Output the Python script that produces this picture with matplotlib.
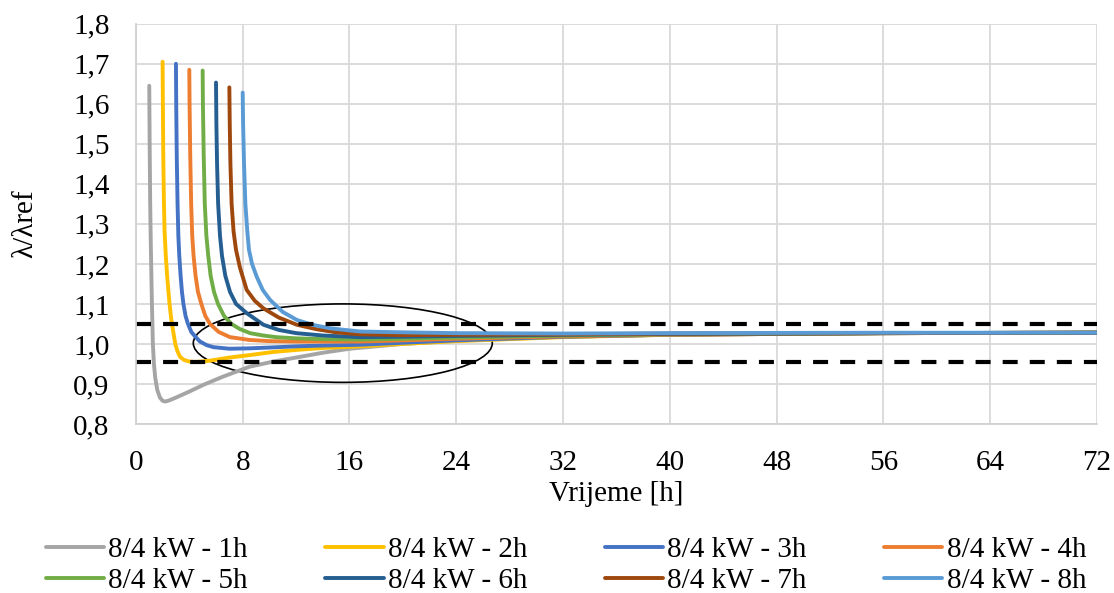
import matplotlib.pyplot as plt
from matplotlib.patches import Ellipse
from matplotlib.ticker import FuncFormatter, MultipleLocator

plt.rcParams['font.family'] = ['Liberation Serif', 'DejaVu Serif']

# series (time in h, lambda/lambda_ref)
t_1h = [1.0, 1.03, 1.07, 1.12, 1.2, 1.27, 1.35, 1.45, 1.6, 1.8, 2.0, 2.2, 2.5, 3.0, 4.0, 5.0, 6.5, 8.5, 10.3, 12.0, 14.0, 16.0, 20.0, 24.0, 32.0, 40.0, 56.0, 72.0]
v_1h = [1.645, 1.50, 1.35, 1.24, 1.10, 1.0, 0.95, 0.915, 0.885, 0.866, 0.858, 0.856, 0.859, 0.866, 0.881, 0.897, 0.918, 0.943, 0.956, 0.966, 0.978, 0.988, 1.0, 1.008, 1.018, 1.023, 1.027, 1.028]

t_2h = [2.0, 2.02, 2.05, 2.1, 2.15, 2.24, 2.34, 2.44, 2.52, 2.62, 2.7, 2.85, 2.95, 3.1, 3.3, 3.6, 4.0, 4.5, 5.5, 7.0, 8.5, 10.3, 12.0, 14.0, 16.8, 20.0, 24.0, 32.0, 40.0, 56.0, 72.0]
v_2h = [1.705, 1.60, 1.47, 1.35, 1.28, 1.22, 1.17, 1.13, 1.10, 1.07, 1.05, 1.02, 1.0, 0.983, 0.968, 0.96, 0.956, 0.955, 0.958, 0.966, 0.972, 0.98, 0.985, 0.99, 0.994, 1.0, 1.007, 1.017, 1.023, 1.027, 1.028]

t_3h = [3.0, 3.02, 3.06, 3.12, 3.18, 3.25, 3.35, 3.45, 3.56, 3.72, 3.9, 4.15, 4.43, 4.8, 5.3, 5.8, 7.0, 8.5, 10.0, 12.0, 14.0, 16.8, 20.0, 24.0, 32.0, 40.0, 56.0, 72.0]
v_3h = [1.70, 1.60, 1.47, 1.35, 1.27, 1.22, 1.17, 1.13, 1.10, 1.07, 1.05, 1.03, 1.019, 1.006, 0.997, 0.992, 0.988, 0.989, 0.991, 0.994, 0.996, 0.998, 1.003, 1.009, 1.018, 1.023, 1.027, 1.028]

t_4h = [4.0, 4.02, 4.07, 4.14, 4.22, 4.32, 4.47, 4.65, 4.9, 5.2, 5.55, 6.2, 7.05, 8.5, 10.0, 12.0, 16.8, 20.0, 24.0, 32.0, 40.0, 56.0, 72.0]
v_4h = [1.685, 1.60, 1.47, 1.35, 1.27, 1.22, 1.17, 1.13, 1.10, 1.07, 1.05, 1.03, 1.017, 1.01, 1.007, 1.006, 1.006, 1.009, 1.013, 1.019, 1.023, 1.027, 1.028]

t_5h = [5.0, 5.02, 5.08, 5.16, 5.28, 5.42, 5.6, 5.85, 6.15, 6.6, 7.15, 7.8, 8.55, 9.55, 10.5, 12.0, 14.0, 16.8, 20.0, 24.0, 32.0, 40.0, 56.0, 72.0]
v_5h = [1.683, 1.60, 1.47, 1.35, 1.27, 1.22, 1.17, 1.13, 1.10, 1.07, 1.05, 1.037, 1.027, 1.021, 1.017, 1.014, 1.012, 1.011, 1.013, 1.016, 1.021, 1.024, 1.027, 1.028]

t_6h = [6.0, 6.03, 6.08, 6.16, 6.3, 6.45, 6.7, 7.05, 7.5, 8.3, 9.55, 10.7, 12.0, 14.0, 16.8, 20.0, 24.0, 32.0, 40.0, 56.0, 72.0]
v_6h = [1.653, 1.55, 1.45, 1.35, 1.27, 1.22, 1.17, 1.13, 1.10, 1.077, 1.048, 1.035, 1.027, 1.021, 1.017, 1.018, 1.02, 1.023, 1.025, 1.027, 1.028]

t_7h = [7.0, 7.03, 7.08, 7.17, 7.32, 7.5, 7.8, 8.3, 8.9, 9.55, 10.7, 12.05, 13.5, 15.0, 16.8, 20.0, 24.0, 32.0, 40.0, 56.0, 72.0]
v_7h = [1.641, 1.55, 1.45, 1.35, 1.28, 1.235, 1.19, 1.135, 1.108, 1.089, 1.066, 1.048, 1.037, 1.029, 1.024, 1.022, 1.023, 1.024, 1.026, 1.027, 1.028]

t_8h = [8.0, 8.03, 8.1, 8.2, 8.35, 8.47, 8.7, 9.05, 9.5, 10.05, 11.0, 12.05, 13.2, 14.55, 16.8, 20.0, 24.0, 32.0, 40.0, 56.0, 72.0]
v_8h = [1.628, 1.55, 1.45, 1.35, 1.28, 1.235, 1.20, 1.168, 1.135, 1.11, 1.08, 1.06, 1.048, 1.039, 1.031, 1.029, 1.027, 1.026, 1.027, 1.028, 1.028]

labels = ['8/4 kW - 1h', '8/4 kW - 2h', '8/4 kW - 3h', '8/4 kW - 4h',
          '8/4 kW - 5h', '8/4 kW - 6h', '8/4 kW - 7h', '8/4 kW - 8h']
colors = ['#A5A5A5', '#FFC000', '#4472C4', '#ED7D31',
          '#70AD47', '#255E91', '#9E480E', '#5B9BD5']

limit_hi = 1.05
limit_lo = 0.955
ell_center = (15.5, 1.002)
ell_w, ell_h = 22.4, 0.196

fig = plt.figure(figsize=(11.14, 5.93), dpi=100)
ax = fig.add_axes([0.122, 0.285, 0.8627, 0.675])

series = [(t_1h, v_1h), (t_2h, v_2h), (t_3h, v_3h), (t_4h, v_4h),
          (t_5h, v_5h), (t_6h, v_6h), (t_7h, v_7h), (t_8h, v_8h)]
lines = []
for (t, v), lab, c in zip(series, labels, colors):
    ln, = ax.plot(t, v, color=c, lw=2.8, label=lab, solid_capstyle='round', solid_joinstyle='round')
    lines.append(ln)

ax.axhline(limit_hi, color='black', lw=3, dashes=(3.6, 2.9))
ax.axhline(limit_lo, color='black', lw=3, dashes=(3.6, 2.9))
ax.add_patch(Ellipse(ell_center, ell_w, ell_h, fill=False, edgecolor='black', lw=1.2))

ax.set_xlim(0, 72)
ax.set_ylim(0.8, 1.8)
ax.xaxis.set_major_locator(MultipleLocator(8))
ax.yaxis.set_major_locator(MultipleLocator(0.1))
ax.yaxis.set_major_formatter(FuncFormatter(lambda y, p: '{:.1f}'.format(y).replace('.', ',')))
ax.grid(True, color='#d9d9d9', lw=1.3)
ax.set_axisbelow(True)
for s in ['top', 'right']:
    ax.spines[s].set_visible(False)
for s in ['left', 'bottom']:
    ax.spines[s].set_color('#d0d0d0')
    ax.spines[s].set_linewidth(1.3)
ax.tick_params(length=0, labelsize=21, colors='black')
ax.tick_params(axis='y', pad=19)
ax.tick_params(axis='x', pad=19)

ax.set_xlabel('Vrijeme [h]', fontsize=21, labelpad=3)
ax.set_ylabel('λ/λref', fontsize=21, labelpad=25)

order = [0, 4, 1, 5, 2, 6, 3, 7]
fig.legend([lines[i] for i in order], [labels[i] for i in order], ncol=4,
           loc='upper center', bbox_to_anchor=(0.508, 0.095), frameon=False,
           fontsize=21, handlelength=2.0, columnspacing=2.65, handletextpad=0.15,
           labelspacing=0.15, borderpad=0.0, borderaxespad=0.0)

plt.savefig('out.png', dpi=100)
